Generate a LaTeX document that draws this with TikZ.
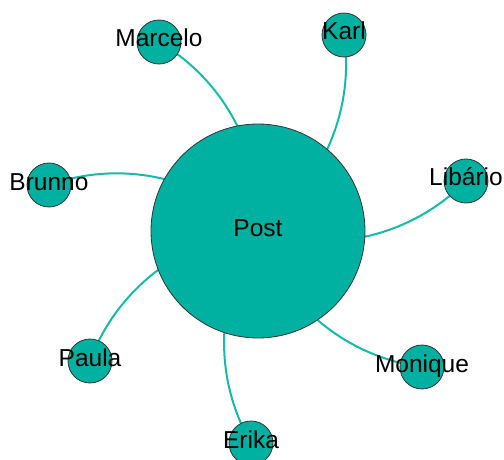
\documentclass[tikz,border=0pt]{standalone}
\usepackage{fontspec}
\setmainfont{Liberation Sans}
\usepackage{mathtools}
\usetikzlibrary{backgrounds}
\definecolor{postteal}{RGB}{0,176,160}
\definecolor{linkteal}{RGB}{22,186,168}

\begin{document}
\begin{tikzpicture}[x=1pt, y=1pt]
\useasboundingbox (0,0) rectangle (504,459);
\tikzstyle{link} = [linkteal, line width=2pt, looseness=0.92]
\tikzstyle{every node} = [circle, draw=black!80, line width=0.8pt, fill=postteal, inner sep=0pt, font=\fontsize{24.5}{28}\selectfont, text height=16pt, text depth=6pt]
\node[minimum size=214pt] (post) at (258,228) {Post};
\tikzstyle{every node} += [minimum size=44pt]
\node (marcelo) at (159,417) {\clap{Marcelo}};
\node (karl) at (344,424) {\clap{Karl}};
\node (libario) at (466,278) {\clap{Libário}};
\node (brunno) at (49,274) {\clap{Brunno}};
\node (paula) at (90,98) {\clap{Paula}};
\node (monique) at (422,92) {\clap{Monique}};
\node (erika) at (251,16) {\clap{Erika}};
\begin{scope}[on background layer]
\draw[link] (marcelo.center) to [bend left=32] (post.center);
\draw[link] (karl.center) to [bend left=32] (post.center);
\draw[link] (libario.center) to [bend left=32] (post.center);
\draw[link] (brunno.center) to [bend left=32] (post.center);
\draw[link] (paula.center) to [bend left=32] (post.center);
\draw[link] (monique.center) to [bend left=32] (post.center);
\draw[link] (erika.center) to [bend left=32] (post.center);
\end{scope}
\end{tikzpicture}
\end{document}
